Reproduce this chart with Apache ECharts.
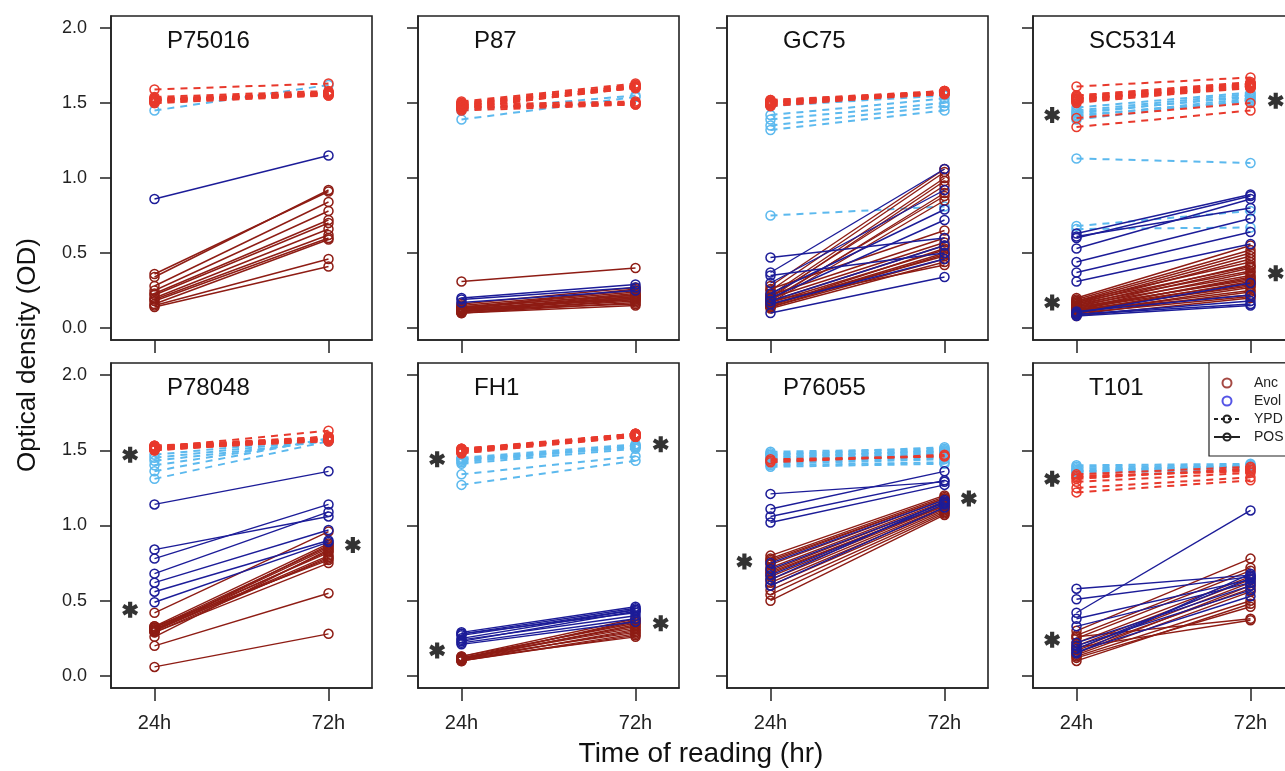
<!DOCTYPE html>
<html>
<head>
<meta charset="utf-8">
<script src="https://cdn.jsdelivr.net/npm/echarts@6/dist/echarts.min.js"></script>
<style>
  html, body { margin: 0; padding: 0; background: #fff; }
  #chart { width: 1285px; height: 771px; }
</style>
</head>
<body>
<div id="chart"></div>
<script>
// ---- axis labels ----
const strains = ['P75016', 'P87', 'GC75', 'SC5314', 'P78048', 'FH1', 'P76055', 'T101'];
const timeLabels = ['24h', '72h'];
const timePos = [1, 2];
const odTicks = [0, 0.5, 1, 1.5, 2];

// ---- optical density pairs [24h, 72h], one pair per strain line ----
const P75016_ancYPD = [[1.59,1.63],[1.53,1.57],[1.52,1.56],[1.51,1.56],[1.52,1.57],[1.50,1.55],[1.53,1.56],[1.51,1.57],[1.52,1.55],[1.50,1.56],[1.54,1.58],[1.52,1.56]];
const P75016_evoYPD = [[1.45,1.62]];
const P75016_ancPOS = [[0.34,0.92],[0.36,0.91],[0.28,0.84],[0.25,0.78],[0.23,0.72],[0.22,0.70],[0.20,0.66],[0.19,0.62],[0.18,0.60],[0.16,0.59],[0.15,0.46],[0.14,0.41]];
const P75016_evoPOS = [[0.86,1.15]];
const P75016_stars = [];

const P87_ancYPD = [[1.50,1.62],[1.49,1.61],[1.48,1.62],[1.47,1.60],[1.51,1.63],[1.49,1.60],[1.46,1.61],[1.48,1.50],[1.47,1.49],[1.46,1.50],[1.45,1.49],[1.49,1.51],[1.47,1.50],[1.50,1.61],[1.48,1.60]];
const P87_evoYPD = [[1.39,1.54],[1.45,1.55]];
const P87_ancPOS = [[0.31,0.40],[0.16,0.27],[0.15,0.25],[0.14,0.24],[0.13,0.23],[0.12,0.22],[0.12,0.21],[0.11,0.20],[0.13,0.19],[0.11,0.18],[0.10,0.17],[0.12,0.16],[0.10,0.15],[0.14,0.22],[0.11,0.21],[0.13,0.26],[0.12,0.20],[0.10,0.19]];
const P87_evoPOS = [[0.20,0.29],[0.19,0.27],[0.17,0.25]];
const P87_stars = [];

const GC75_ancYPD = [[1.52,1.58],[1.51,1.57],[1.50,1.57],[1.49,1.56],[1.50,1.58],[1.48,1.57],[1.51,1.56],[1.49,1.58],[1.50,1.56],[1.52,1.57],[1.48,1.58],[1.51,1.57]];
const GC75_evoYPD = [[1.48,1.55],[1.42,1.53],[1.39,1.50],[1.35,1.48],[1.32,1.45],[0.75,0.81]];
const GC75_ancPOS = [[0.28,1.06],[0.25,1.04],[0.22,1.00],[0.20,0.98],[0.21,0.95],[0.18,0.90],[0.19,0.88],[0.17,0.85],[0.26,0.65],[0.22,0.60],[0.20,0.57],[0.18,0.55],[0.17,0.52],[0.15,0.50],[0.16,0.48],[0.14,0.46],[0.13,0.44],[0.18,0.42],[0.15,0.53],[0.14,0.49]];
const GC75_evoPOS = [[0.47,0.60],[0.37,1.06],[0.35,0.50],[0.30,0.92],[0.23,0.79],[0.20,0.72],[0.18,0.55],[0.16,0.46],[0.10,0.34]];
const GC75_stars = [];

const SC5314_ancYPD = [[1.61,1.67],[1.55,1.64],[1.54,1.63],[1.53,1.62],[1.52,1.62],[1.53,1.61],[1.51,1.60],[1.52,1.63],[1.54,1.62],[1.50,1.61],[1.53,1.60],[1.52,1.61],[1.55,1.63],[1.51,1.62],[1.40,1.50],[1.34,1.45]];
const SC5314_evoYPD = [[1.47,1.57],[1.45,1.56],[1.43,1.55],[1.41,1.53],[1.39,1.52],[1.44,1.54],[1.42,1.51],[1.13,1.10],[0.68,0.78],[0.66,0.67]];
const SC5314_ancPOS = [[0.20,0.55],[0.19,0.52],[0.18,0.50],[0.17,0.48],[0.16,0.46],[0.18,0.44],[0.15,0.42],[0.14,0.40],[0.16,0.38],[0.13,0.37],[0.15,0.35],[0.12,0.34],[0.14,0.32],[0.11,0.31],[0.13,0.30],[0.12,0.28],[0.10,0.27],[0.11,0.25],[0.09,0.24],[0.12,0.22],[0.10,0.21],[0.08,0.20],[0.17,0.41],[0.13,0.33],[0.11,0.29]];
const SC5314_evoPOS = [[0.63,0.89],[0.60,0.88],[0.61,0.80],[0.53,0.86],[0.44,0.73],[0.37,0.64],[0.31,0.56],[0.10,0.30],[0.09,0.16],[0.08,0.15],[0.11,0.22],[0.09,0.18]];
const SC5314_stars = [[0.86,1.42],[0.86,0.17],[2.145,1.515],[2.145,0.365]];

const P78048_ancYPD = [[1.52,1.63],[1.53,1.58],[1.51,1.57],[1.52,1.58],[1.50,1.57],[1.53,1.59],[1.51,1.58],[1.52,1.57],[1.50,1.58],[1.52,1.56],[1.51,1.59],[1.53,1.57],[1.52,1.58],[1.51,1.56],[1.50,1.59]];
const P78048_evoYPD = [[1.47,1.58],[1.45,1.57],[1.43,1.56],[1.40,1.57],[1.36,1.58],[1.31,1.56]];
const P78048_ancPOS = [[0.42,0.96],[0.33,0.88],[0.32,0.86],[0.31,0.85],[0.30,0.83],[0.32,0.82],[0.30,0.80],[0.29,0.79],[0.31,0.78],[0.33,0.77],[0.29,0.75],[0.30,0.87],[0.26,0.84],[0.20,0.55],[0.06,0.28]];
const P78048_evoPOS = [[1.14,1.36],[0.84,1.06],[0.78,1.14],[0.68,1.09],[0.62,0.97],[0.56,0.90],[0.49,0.89]];
const P78048_stars = [[0.86,1.47],[0.86,0.44],[2.14,0.87]];

const FH1_ancYPD = [[1.50,1.60],[1.49,1.61],[1.51,1.60],[1.50,1.59],[1.48,1.60],[1.51,1.61],[1.49,1.59],[1.50,1.61],[1.48,1.59],[1.50,1.60],[1.49,1.60],[1.51,1.59],[1.50,1.61]];
const FH1_evoYPD = [[1.45,1.54],[1.44,1.53],[1.43,1.52],[1.42,1.53],[1.44,1.52],[1.41,1.51],[1.34,1.46],[1.27,1.43]];
const FH1_ancPOS = [[0.13,0.38],[0.12,0.36],[0.11,0.34],[0.12,0.33],[0.10,0.31],[0.11,0.30],[0.12,0.29],[0.10,0.28],[0.13,0.35],[0.11,0.37],[0.12,0.32],[0.10,0.27],[0.11,0.26]];
const FH1_evoPOS = [[0.29,0.46],[0.28,0.45],[0.27,0.44],[0.25,0.44],[0.23,0.43],[0.22,0.38],[0.21,0.36],[0.28,0.42],[0.24,0.40]];
const FH1_stars = [[0.86,1.44],[0.86,0.17],[2.145,1.54],[2.145,0.35]];

const P76055_ancYPD = [[1.43,1.46],[1.42,1.47],[1.44,1.46]];
const P76055_evoYPD = [[1.49,1.51],[1.48,1.50],[1.47,1.49],[1.46,1.49],[1.45,1.48],[1.44,1.47],[1.43,1.46],[1.42,1.45],[1.41,1.44],[1.40,1.42],[1.39,1.41],[1.47,1.52],[1.45,1.50],[1.43,1.48]];
const P76055_ancPOS = [[0.80,1.20],[0.78,1.19],[0.76,1.18],[0.74,1.17],[0.72,1.16],[0.70,1.15],[0.68,1.14],[0.66,1.13],[0.64,1.12],[0.62,1.11],[0.60,1.10],[0.57,1.09],[0.54,1.08],[0.50,1.07],[0.77,1.18],[0.69,1.13]];
const P76055_evoPOS = [[1.21,1.29],[1.11,1.36],[1.06,1.30],[1.02,1.27],[0.75,1.17],[0.71,1.15],[0.67,1.14],[0.64,1.16],[0.60,1.12]];
const P76055_stars = [[0.85,0.76],[2.14,1.18]];

const T101_ancYPD = [[1.32,1.37],[1.29,1.35],[1.25,1.32],[1.22,1.30],[1.34,1.39],[1.31,1.38],[1.33,1.36]];
const T101_evoYPD = [[1.39,1.40],[1.37,1.39],[1.36,1.38],[1.35,1.37],[1.38,1.39],[1.40,1.41],[1.36,1.40]];
const T101_ancPOS = [[0.30,0.78],[0.27,0.72],[0.25,0.70],[0.22,0.66],[0.20,0.64],[0.18,0.62],[0.15,0.60],[0.13,0.50],[0.12,0.46],[0.26,0.38],[0.19,0.37],[0.14,0.56],[0.10,0.48],[0.17,0.58]];
const T101_evoPOS = [[0.58,0.67],[0.51,0.66],[0.42,1.10],[0.38,0.64],[0.33,0.62],[0.22,0.60],[0.18,0.65],[0.16,0.53],[0.15,0.68],[0.20,0.57]];
const T101_stars = [[0.86,1.31],[0.86,0.24]];

const panels = [
  { ancYPD: P75016_ancYPD, evoYPD: P75016_evoYPD, ancPOS: P75016_ancPOS, evoPOS: P75016_evoPOS, stars: P75016_stars },
  { ancYPD: P87_ancYPD,    evoYPD: P87_evoYPD,    ancPOS: P87_ancPOS,    evoPOS: P87_evoPOS,    stars: P87_stars },
  { ancYPD: GC75_ancYPD,   evoYPD: GC75_evoYPD,   ancPOS: GC75_ancPOS,   evoPOS: GC75_evoPOS,   stars: GC75_stars },
  { ancYPD: SC5314_ancYPD, evoYPD: SC5314_evoYPD, ancPOS: SC5314_ancPOS, evoPOS: SC5314_evoPOS, stars: SC5314_stars },
  { ancYPD: P78048_ancYPD, evoYPD: P78048_evoYPD, ancPOS: P78048_ancPOS, evoPOS: P78048_evoPOS, stars: P78048_stars },
  { ancYPD: FH1_ancYPD,    evoYPD: FH1_evoYPD,    ancPOS: FH1_ancPOS,    evoPOS: FH1_evoPOS,    stars: FH1_stars },
  { ancYPD: P76055_ancYPD, evoYPD: P76055_evoYPD, ancPOS: P76055_ancPOS, evoPOS: P76055_evoPOS, stars: P76055_stars },
  { ancYPD: T101_ancYPD,   evoYPD: T101_evoYPD,   ancPOS: T101_ancPOS,   evoPOS: T101_evoPOS,   stars: T101_stars }
];

// ---- styling ----
const FONT = '"Liberation Sans", Arial, Helvetica, sans-serif';
const INK = '#222';
const COLORS = { ancPOS: '#8e1c14', evoPOS: '#1c1c98', ancYPD: '#e8392c', evoYPD: '#5cb9ee' };
const colLeft = [111, 418, 727, 1033];
const rowTop = [16, 363];
const rowHeight = [324, 325];
const panelWidth = 261;
const CLEAR = 'rgba(255,255,255,0)';
// six-armed asterisk outline (three crossing bars)
const STAR_PATH = 'path://M-2.6,-10L2.6,-10L2.6,10L-2.6,10Z M7.36,-7.25L9.96,-2.75L-7.36,7.25L-9.96,2.75Z M-9.96,-2.75L-7.36,-7.25L9.96,2.75L7.36,7.25Z';

const grids = [], xAxes = [], yAxes = [], titles = [], series = [];

strains.forEach((name, i) => {
  const row = Math.floor(i / 4), col = i % 4;
  grids.push({
    left: colLeft[col], top: rowTop[row], width: panelWidth, height: rowHeight[row],
    outerBoundsMode: 'none', containLabel: false,
    show: true, borderColor: INK, borderWidth: 1.6, backgroundColor: '#fff'
  });
  xAxes.push({
    gridIndex: i, type: 'value', min: 0.75, max: 2.25,
    splitLine: { show: false },
    axisLine: { show: true, onZero: false, lineStyle: { color: INK, width: 1.6 } },
    axisTick: { show: true, length: 13, customValues: timePos, lineStyle: { color: INK, width: 1.5 } },
    axisLabel: {
      show: row === 1, customValues: timePos, margin: 25,
      formatter: v => timeLabels[timePos.indexOf(Math.round(v))] || '',
      fontSize: 20, color: INK, fontFamily: FONT
    }
  });
  yAxes.push({
    gridIndex: i, type: 'value', min: -0.08, max: 2.08,
    splitLine: { show: false },
    axisLine: { show: true, lineStyle: { color: INK, width: 1.6 } },
    axisTick: { show: true, length: 11, customValues: odTicks, lineStyle: { color: INK, width: 1.5 } },
    axisLabel: {
      show: col === 0, customValues: odTicks, margin: 24,
      formatter: v => v.toFixed(1),
      fontSize: 18, color: INK, fontFamily: FONT
    }
  });
  titles.push({
    text: name, left: colLeft[col] + 56, top: rowTop[row] + 13, padding: 0,
    textStyle: { fontSize: 24, fontWeight: 'normal', color: '#111', fontFamily: FONT }
  });

  const p = panels[i];
  const addPairs = (pairs, color, dashed, z) => {
    pairs.forEach(pair => {
      series.push({
        type: 'line', xAxisIndex: i, yAxisIndex: i, z,
        data: [[timePos[0], pair[0]], [timePos[1], pair[1]]],
        symbol: 'circle', symbolSize: 9, showSymbol: true,
        lineStyle: { color, width: dashed ? 2 : 1.4, type: dashed ? [7, 6] : 'solid' },
        itemStyle: { color: CLEAR, borderColor: color, borderWidth: 1.5 },
        silent: true, animation: false, emphasis: { disabled: true }
      });
    });
  };
  addPairs(p.evoYPD, COLORS.evoYPD, true, 2);
  addPairs(p.ancYPD, COLORS.ancYPD, true, 3);
  addPairs(p.ancPOS, COLORS.ancPOS, false, 4);
  addPairs(p.evoPOS, COLORS.evoPOS, false, 5);
  if (p.stars.length) {
    series.push({
      type: 'scatter', xAxisIndex: i, yAxisIndex: i, z: 6,
      data: p.stars, symbol: STAR_PATH, symbolSize: 16,
      itemStyle: { color: '#000' }, silent: true, animation: false
    });
  }
});

// legend entries, styled like the panel marks
series.push(
  { name: 'Anc', type: 'scatter', xAxisIndex: 7, yAxisIndex: 7, data: [], symbol: 'circle',
    itemStyle: { color: CLEAR, borderColor: COLORS.ancPOS, borderWidth: 1.5 } },
  { name: 'Evol', type: 'scatter', xAxisIndex: 7, yAxisIndex: 7, data: [], symbol: 'circle',
    itemStyle: { color: CLEAR, borderColor: '#2a2ae0', borderWidth: 1.5 } },
  { name: 'YPD', type: 'line', xAxisIndex: 7, yAxisIndex: 7, data: [], symbol: 'circle',
    lineStyle: { color: INK, width: 1.5, type: [4, 3] },
    itemStyle: { color: CLEAR, borderColor: INK, borderWidth: 1.3 } },
  { name: 'POS', type: 'line', xAxisIndex: 7, yAxisIndex: 7, data: [], symbol: 'circle',
    lineStyle: { color: INK, width: 1.5 },
    itemStyle: { color: CLEAR, borderColor: INK, borderWidth: 1.3 } }
);

const chart = echarts.init(document.getElementById('chart'), null, { renderer: 'canvas' });
chart.setOption({
  animation: false,
  backgroundColor: '#fff',
  title: titles,
  grid: grids,
  xAxis: xAxes,
  yAxis: yAxes,
  legend: {
    data: ['Anc', 'Evol', 'YPD', 'POS'],
    orient: 'vertical', left: 1209, top: 363,
    padding: [13, 40, 12, 4],
    itemWidth: 26, itemHeight: 9, itemGap: 4,
    borderColor: INK, borderWidth: 1.2, backgroundColor: '#fff',
    selectedMode: false, z: 10,
    textStyle: { fontSize: 14, color: INK, fontFamily: FONT, lineHeight: 14, padding: [0, 0, 0, 9] }
  },
  graphic: [
    { type: 'text', x: 701, y: 754, silent: true,
      style: { text: 'Time of reading (hr)', fontSize: 28, fontFamily: FONT, fill: '#111', align: 'center', verticalAlign: 'middle' } },
    { type: 'text', x: 28, y: 355, rotation: Math.PI / 2, silent: true,
      style: { text: 'Optical density (OD)', fontSize: 26, fontFamily: FONT, fill: '#111', align: 'center', verticalAlign: 'middle' } }
  ],
  series
});
</script>
</body>
</html>
